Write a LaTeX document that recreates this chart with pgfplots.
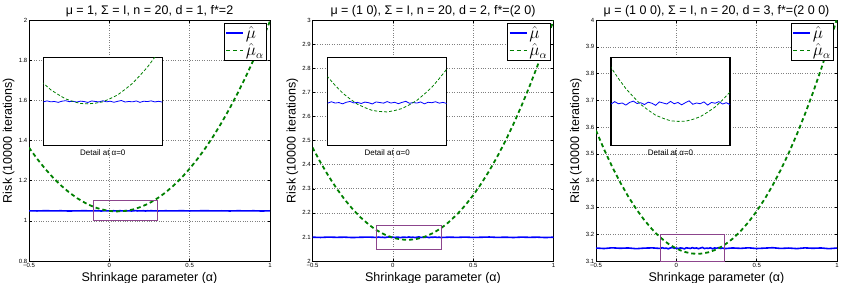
\documentclass[border=0pt]{standalone}
\usepackage{fontspec}
\setmainfont{Liberation Sans}
\usepackage{pgfplots}
\pgfplotsset{compat=1.18}
\usepackage{pgfplotstable}

\definecolor{mblue}{rgb}{0,0,1}
\definecolor{mgreen}{rgb}{0,0.5,0}
\definecolor{boxpurple}{rgb}{0.55,0.27,0.55}

% Risk of the plain estimator (blue) for d = 1, 2, 3
\pgfplotstableread{
x y
-0.5 1.0500
-0.45 1.0492
-0.4 1.0504
-0.35 1.0496
-0.3 1.0501
-0.25 1.0489
-0.2 1.0498
-0.15 1.0502
-0.1 1.0493
-0.0875 1.0505
-0.075 1.0494
-0.0625 1.0498
-0.05 1.0488
-0.0375 1.0501
-0.025 1.0507
-0.0125 1.0496
0 1.0500
0.0125 1.0491
0.025 1.0502
0.0375 1.0497
0.05 1.0487
0.0625 1.0504
0.075 1.0498
0.0875 1.0493
0.1 1.0506
0.1125 1.0494
0.125 1.0501
0.1375 1.0489
0.15 1.0500
0.1625 1.0509
0.175 1.0492
0.1875 1.0498
0.2 1.0494
0.2125 1.0504
0.225 1.0488
0.2375 1.0501
0.25 1.0497
0.2625 1.0505
0.275 1.0493
0.2875 1.0500
0.3 1.0491
0.35 1.0501
0.4 1.0494
0.45 1.0504
0.5 1.0492
0.55 1.0498
0.6 1.0505
0.65 1.0493
0.7 1.0500
0.75 1.0491
0.8 1.0502
0.85 1.0496
0.9 1.0501
0.95 1.0489
1 1.0500
}\blueA

\pgfplotstableread{
x y
-0.5 2.0988
-0.45 2.0977
-0.4 2.0993
-0.35 2.0982
-0.3 2.0989
-0.25 2.0973
-0.2 2.0986
-0.15 2.0991
-0.1 2.0979
-0.0875 2.0995
-0.075 2.0980
-0.0625 2.0986
-0.05 2.0971
-0.0375 2.0989
-0.025 2.0998
-0.0125 2.0982
0 2.0988
0.0125 2.0975
0.025 2.0991
0.0375 2.0984
0.05 2.0970
0.0625 2.0993
0.075 2.0986
0.0875 2.0979
0.1 2.0997
0.1125 2.0980
0.125 2.0989
0.1375 2.0973
0.15 2.0988
0.1625 2.1000
0.175 2.0977
0.1875 2.0986
0.2 2.0980
0.2125 2.0993
0.225 2.0971
0.2375 2.0989
0.25 2.0984
0.2625 2.0995
0.275 2.0979
0.2875 2.0988
0.3 2.0975
0.35 2.0989
0.4 2.0980
0.45 2.0993
0.5 2.0977
0.55 2.0986
0.6 2.0995
0.65 2.0979
0.7 2.0988
0.75 2.0975
0.8 2.0991
0.85 2.0982
0.9 2.0989
0.95 2.0973
1 2.0988
}\blueB

\pgfplotstableread{
x y
-0.5 3.1484
-0.45 3.1466
-0.4 3.1493
-0.35 3.1475
-0.3 3.1487
-0.25 3.1460
-0.2 3.1481
-0.15 3.1490
-0.1 3.1469
-0.0875 3.1496
-0.075 3.1472
-0.0625 3.1481
-0.05 3.1457
-0.0375 3.1487
-0.025 3.1502
-0.0125 3.1475
0 3.1484
0.0125 3.1463
0.025 3.1490
0.0375 3.1478
0.05 3.1454
0.0625 3.1493
0.075 3.1481
0.0875 3.1469
0.1 3.1499
0.1125 3.1472
0.125 3.1487
0.1375 3.1460
0.15 3.1484
0.1625 3.1505
0.175 3.1466
0.1875 3.1481
0.2 3.1472
0.2125 3.1493
0.225 3.1457
0.2375 3.1487
0.25 3.1478
0.2625 3.1496
0.275 3.1469
0.2875 3.1484
0.3 3.1463
0.35 3.1487
0.4 3.1472
0.45 3.1493
0.5 3.1466
0.55 3.1481
0.6 3.1496
0.65 3.1469
0.7 3.1484
0.75 3.1463
0.8 3.1490
0.85 3.1475
0.9 3.1487
0.95 3.1460
1 3.1484
}\blueC

% Risk of the shrinkage estimator (green) for d = 1, 2, 3
\pgfplotstableread{
x y
-0.5 1.3646
-0.45 1.3095
-0.4 1.2596
-0.35 1.2150
-0.3 1.1756
-0.25 1.1415
-0.2 1.1126
-0.15 1.0890
-0.125 1.0792
-0.1 1.0706
-0.075 1.0631
-0.05 1.0577
-0.025 1.0527
0 1.0498
0.025 1.0475
0.05 1.0471
0.075 1.0479
0.1 1.0494
0.125 1.0531
0.15 1.0573
0.175 1.0636
0.2 1.0704
0.225 1.0794
0.25 1.0888
0.275 1.1002
0.3 1.1126
0.325 1.1264
0.35 1.1415
0.4 1.1756
0.45 1.2150
0.5 1.2596
0.55 1.3095
0.6 1.3646
0.65 1.4250
0.7 1.4906
0.75 1.5615
0.8 1.6376
0.85 1.7190
0.9 1.8056
0.95 1.8975
1 1.9946
}\greenA

\pgfplotstableread{
x y
-0.5 2.4709
-0.45 2.4088
-0.4 2.3521
-0.35 2.3010
-0.3 2.2553
-0.25 2.2152
-0.2 2.1805
-0.15 2.1514
-0.125 2.1388
-0.1 2.1277
-0.075 2.1181
-0.05 2.1094
-0.025 2.1027
0 2.0967
0.025 2.0928
0.05 2.0896
0.075 2.0884
0.1 2.0879
0.125 2.0895
0.15 2.0918
0.175 2.0961
0.2 2.1011
0.225 2.1082
0.25 2.1160
0.275 2.1258
0.3 2.1365
0.325 2.1487
0.35 2.1624
0.4 2.1937
0.45 2.2306
0.5 2.2729
0.55 2.3208
0.6 2.3741
0.65 2.4330
0.7 2.4973
0.75 2.5672
0.8 2.6425
0.85 2.7234
0.9 2.8097
0.95 2.9016
1 2.9989
}\greenB

\pgfplotstableread{
x y
-0.5 3.5874
-0.45 3.5172
-0.4 3.4528
-0.35 3.3943
-0.3 3.3415
-0.25 3.2945
-0.2 3.2533
-0.15 3.2179
-0.125 3.2024
-0.1 3.1884
-0.075 3.1759
-0.05 3.1644
-0.025 3.1551
0 3.1464
0.025 3.1400
0.05 3.1342
0.075 3.1307
0.1 3.1278
0.125 3.1272
0.15 3.1273
0.175 3.1295
0.2 3.1325
0.225 3.1377
0.25 3.1435
0.275 3.1516
0.3 3.1605
0.325 3.1711
0.35 3.1831
0.4 3.2116
0.45 3.2458
0.5 3.2858
0.55 3.3316
0.6 3.3832
0.65 3.4407
0.7 3.5039
0.75 3.5729
0.8 3.6477
0.85 3.7283
0.9 3.8148
0.95 3.9070
1 4.0050
}\greenC

\pgfplotsset{
  risk/.style={
    scale only axis, width=241pt, height=241pt,
    xmin=-0.5, xmax=1,
    xtick={-0.5,0,0.5,1}, xticklabels={−0.5,0,0.5,1},
    grid=major, major grid style={dotted, black!50, line width=0.5pt},
    tick align=inside, major tick length=2.5pt,
    tick style={black, line width=0.4pt},
    axis line style={line width=0.8pt},
    every tick label/.append style={font=\fontsize{6}{7}\selectfont},
    xticklabel style={inner sep=1pt, yshift=-1.2pt},
    yticklabel style={inner sep=1.5pt},
    label style={font=\fontsize{12.5}{14}\selectfont},
    title style={font=\fontsize{12.5}{14}\selectfont,
      at={(axis description cs:0.5,1)}, anchor=base},
    xlabel style={at={([yshift=-20pt]axis description cs:0.5,0)}, anchor=base},
    ylabel style={at={([xshift=-17pt]axis description cs:0,0.5)}, anchor=base},
    xlabel={Shrinkage parameter (α)},
    ylabel={Risk (10000 iterations)},
    legend style={at={(axis description cs:0.9876,0.9876)}, anchor=north east,
      line width=0.8pt, font=\fontsize{16}{17}\selectfont,
      inner sep=1pt, row sep=0pt, cells={anchor=west}},
    legend image post style={line width=1.6pt},
  },
  detail/.style={
    scale only axis, width=119pt, height=88pt,
    xmin=-0.1, xmax=0.3, ticks=none,
    axis line style={line width=1.4pt},
    axis background/.style={fill=white},
    xlabel={Detail at α=0},
    xlabel style={font=\fontsize{8}{9}\selectfont,
      at={([yshift=-10.5pt]axis description cs:0.5,0)}, anchor=base},
  },
  mainblue/.style={color=mblue, line width=1.6pt},
  maingreen/.style={color=mgreen, line width=1.8pt, dash pattern=on 4pt off 3pt},
  insetblue/.style={color=mblue, line width=0.8pt},
  insetgreen/.style={color=mgreen, line width=0.8pt, dash pattern=on 3pt off 2pt},
}

\begin{document}
\begin{tikzpicture}
\useasboundingbox (0,0) rectangle (842pt,282pt);
\clip (0,0) rectangle (842pt,282pt);

% ---- d = 1 ----
\begin{axis}[risk, at={(29pt,21pt)}, anchor=south west,
  ymin=0.8, ymax=2, ytick={0.8,1,1.2,1.4,1.6,1.8,2},
  yticklabels={0.8,1,1.2,1.4,1.6,1.8,2},
  title={μ = 1, Σ = I, n = 20, d = 1, f*=2}]
  \addplot[mainblue] table {\blueA};
  \addplot[maingreen] table {\greenA};
  \draw[boxpurple, line width=0.7pt] (axis cs:-0.1,1) rectangle (axis cs:0.3,1.1);
  \legend{$\hat{\mu}$,$\hat{\mu}_\alpha$}
\end{axis}
\begin{axis}[detail, at={(43.3pt,136.7pt)}, anchor=south west, ymin=1, ymax=1.1]
  \addplot[insetblue] table {\blueA};
  \addplot[insetgreen] table {\greenA};
\end{axis}

% ---- d = 2 ----
\begin{axis}[risk, at={(312.5pt,21pt)}, anchor=south west,
  ymin=2, ymax=3, ytick={2,2.1,2.2,2.3,2.4,2.5,2.6,2.7,2.8,2.9,3},
  yticklabels={2,2.1,2.2,2.3,2.4,2.5,2.6,2.7,2.8,2.9,3},
  title={μ = (1 0), Σ = I, n = 20, d = 2, f*=(2 0)}]
  \addplot[mainblue] table {\blueB};
  \addplot[maingreen] table {\greenB};
  \draw[boxpurple, line width=0.7pt] (axis cs:-0.1,2.05) rectangle (axis cs:0.3,2.15);
  \legend{$\hat{\mu}$,$\hat{\mu}_\alpha$}
\end{axis}
\begin{axis}[detail, at={(327.7pt,136.7pt)}, anchor=south west, ymin=2.05, ymax=2.15]
  \addplot[insetblue] table {\blueB};
  \addplot[insetgreen] table {\greenB};
\end{axis}

% ---- d = 3 ----
\begin{axis}[risk, at={(596pt,21pt)}, anchor=south west,
  ymin=3.1, ymax=4, ytick={3.1,3.2,3.3,3.4,3.5,3.6,3.7,3.8,3.9,4},
  yticklabels={3.1,3.2,3.3,3.4,3.5,3.6,3.7,3.8,3.9,4},
  title={μ = (1 0 0), Σ = I, n = 20, d = 3, f*=(2 0 0)}]
  \addplot[mainblue] table {\blueC};
  \addplot[maingreen] table {\greenC};
  \draw[boxpurple, line width=0.7pt] (axis cs:-0.1,3.1) rectangle (axis cs:0.3,3.2);
  \legend{$\hat{\mu}$,$\hat{\mu}_\alpha$}
\end{axis}
\begin{axis}[detail, at={(611pt,136.7pt)}, anchor=south west, ymin=3.1, ymax=3.2]
  \addplot[insetblue] table {\blueC};
  \addplot[insetgreen] table {\greenC};
\end{axis}
\end{tikzpicture}
\end{document}
